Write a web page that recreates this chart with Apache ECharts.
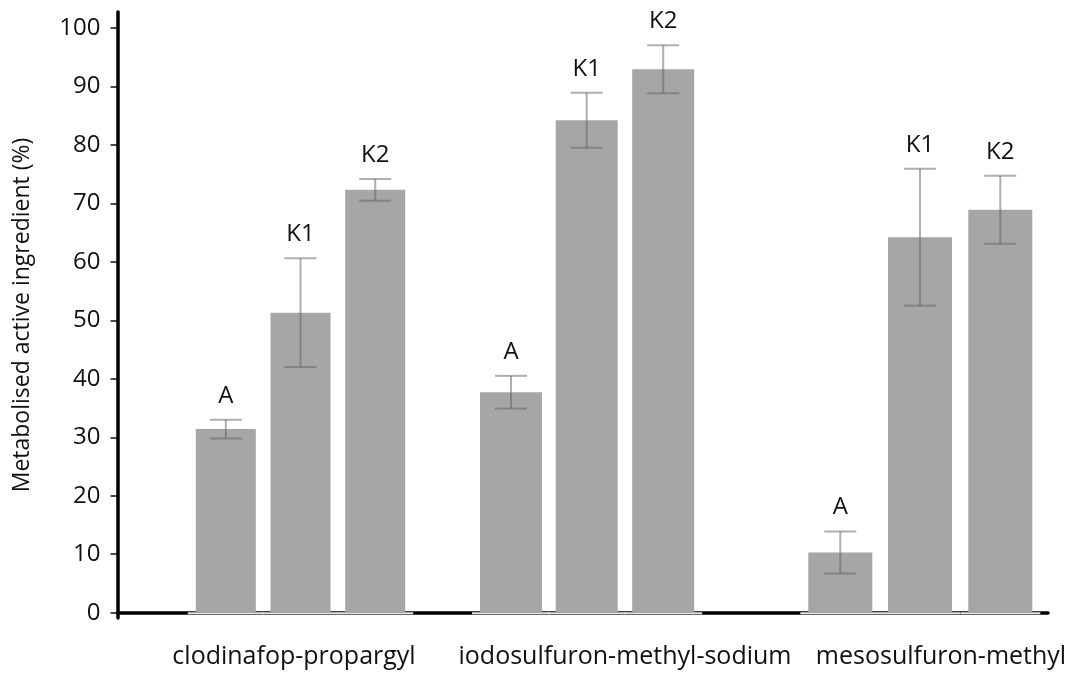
<!DOCTYPE html>
<html>
<head>
<meta charset="utf-8">
<title>Metabolised active ingredient</title>
<script src="https://cdn.jsdelivr.net/npm/echarts@6/dist/echarts.min.js"></script>
<style>
  html, body { margin: 0; padding: 0; background: #fff; }
  #chart { width: 1076px; height: 675px; }
</style>
</head>
<body>
<div id="chart"></div>
<script>
// Herbicides tested
const categories = ['clodinafop-propargyl', 'iodosulfuron-methyl-sodium', 'mesosulfuron-methyl'];
// Treatments shown within each herbicide group
const treatments = ['A', 'K1', 'K2'];

// Mean metabolised active ingredient (%), one value per herbicide
const meanA  = [31.4, 37.7, 10.3];
const meanK1 = [51.3, 84.2, 64.2];
const meanK2 = [72.3, 92.9, 68.9];

// Error bar half-lengths (%)
const errA  = [1.6, 2.8, 3.6];
const errK1 = [9.3, 4.7, 11.7];
const errK2 = [1.85, 4.1, 5.8];

// Y axis tick labels
const yTicks = [0, 10, 20, 30, 40, 50, 60, 70, 80, 90, 100];

// ---- layout (horizontal axis runs in plot pixels) ----
const slotX = [
  [108.3, 183.0, 257.7],
  [393.5, 469.2, 545.7],
  [722.8, 802.5, 882.8]
];
const groupBarWidth = [60, 62, 64];
const categoryLabelX = [176.5, 507.5, 823.5];

const means = [meanA, meanK1, meanK2];
const errs = [errA, errK1, errK2];

const seriesData = [];
categories.forEach((c, i) => {
  treatments.forEach((t, j) => {
    seriesData.push({
      value: [slotX[i][j], means[j][i], errs[j][i], groupBarWidth[i]],
      name: t
    });
  });
});

const FONT = '"Open Sans"';

const chart = echarts.init(document.getElementById('chart'), null, { renderer: 'canvas' });

chart.setOption({
  animation: false,
  backgroundColor: '#ffffff',
  grid: { left: 117.5, right: 28, top: 12, bottom: 57, containLabel: false },
  xAxis: {
    type: 'value',
    min: 0,
    max: 930.5,
    axisLine: { show: true, lineStyle: { color: '#000', width: 3.5 } },
    axisTick: { show: false },
    splitLine: { show: false },
    axisLabel: {
      customValues: categoryLabelX,
      formatter: (v) => categories[categoryLabelX.indexOf(v)] || '',
      color: '#111',
      fontFamily: FONT,
      fontSize: 25,
      margin: 26
    }
  },
  yAxis: {
    type: 'value',
    min: -0.9,
    max: 102.7,
    name: 'Metabolised active ingredient (%)',
    nameLocation: 'middle',
    nameGap: 84,
    nameTextStyle: { color: '#111', fontFamily: FONT, fontSize: 23 },
    axisLine: { show: true, lineStyle: { color: '#000', width: 3.5 } },
    axisTick: {
      show: true,
      customValues: yTicks,
      length: 7,
      lineStyle: { color: '#111', width: 1.5 }
    },
    splitLine: { show: false },
    axisLabel: {
      customValues: yTicks,
      color: '#111',
      fontFamily: FONT,
      fontSize: 24,
      margin: 17
    }
  },
  series: [{
    type: 'custom',
    data: seriesData,
    clip: false,
    renderItem: function (params, api) {
      const x = api.value(0);
      const mean = api.value(1);
      const err = api.value(2);
      const bw = api.size([api.value(3), 0])[0];
      const base = api.coord([x, 0]);
      const top = api.coord([x, mean]);
      const hi = api.coord([x, mean + err]);
      const lo = api.coord([x, mean - err]);
      const cx = base[0];
      const cap = 16;
      const errStyle = { stroke: 'rgba(95,95,95,0.5)', lineWidth: 2 };
      const label = treatments[params.dataIndex % 3];
      return {
        type: 'group',
        children: [
          {
            type: 'line',
            shape: { x1: cx - bw / 2 - 8, y1: base[1] + 0.5, x2: cx + bw / 2 + 8, y2: base[1] + 0.5 },
            style: { stroke: '#e2e5eb', lineWidth: 2 }
          },
          {
            type: 'rect',
            shape: { x: cx - bw / 2, y: top[1], width: bw, height: base[1] - top[1] },
            style: { fill: '#a6a6a6' }
          },
          {
            type: 'line',
            shape: { x1: cx, y1: hi[1], x2: cx, y2: lo[1] },
            style: errStyle
          },
          {
            type: 'line',
            shape: { x1: cx - cap, y1: hi[1], x2: cx + cap, y2: hi[1] },
            style: errStyle
          },
          {
            type: 'line',
            shape: { x1: cx - cap, y1: lo[1], x2: cx + cap, y2: lo[1] },
            style: errStyle
          },
          {
            type: 'text',
            style: {
              text: label,
              x: cx,
              y: hi[1] - 12,
              textAlign: 'center',
              textVerticalAlign: 'bottom',
              fill: '#111',
              font: '24px ' + FONT
            }
          }
        ]
      };
    }
  }]
});
</script>
</body>
</html>
